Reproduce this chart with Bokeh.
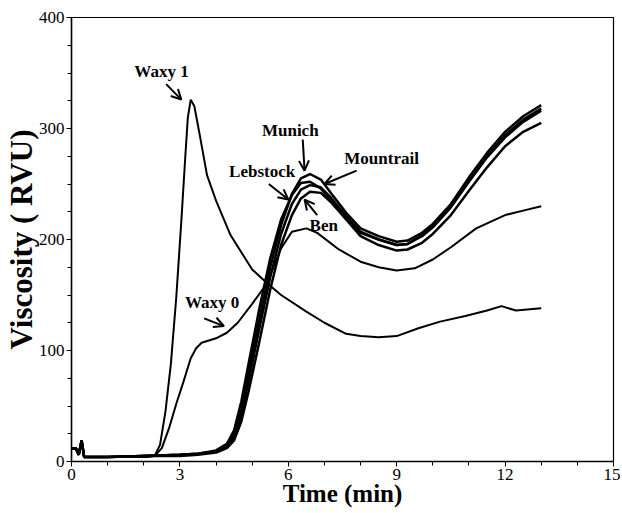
from bokeh.plotting import figure
from bokeh.models import Arrow, OpenHead, FixedTicker, Range1d
from bokeh.core.properties import value
from bokeh.embed import file_html
from bokeh.resources import INLINE

# ---- data (time in min, viscosity in RVU) ----
t_main = [0, 0.12, 0.2, 0.28, 0.35, 1.0, 2.0, 3.0, 3.5, 4.0, 4.3, 4.5, 4.7, 4.9, 5.2, 5.5,
          5.8, 6.1, 6.35, 6.6, 6.9, 7.2, 7.6, 8.0, 8.5, 9.0, 9.3, 9.7, 10.0, 10.5, 11.0,
          11.5, 12.0, 12.5, 13.0]
munich = [12, 12, 6, 19, 4, 4, 5, 6, 7, 9, 14, 24, 46, 80, 128, 175, 213, 241, 255, 259,
          254, 241, 224, 210, 203, 198, 199, 206, 214, 232, 256, 278, 297, 311, 321]
lebstock = [12, 12, 6, 19, 4, 4, 5, 6, 7, 10, 16, 28, 54, 88, 138, 183, 218, 240, 251, 252,
            246, 234, 219, 206, 200, 195, 196, 204, 212, 230, 253, 275, 294, 308, 318]
mountrail = [12, 12, 6, 19, 4, 4, 5, 6, 7, 9, 13, 22, 42, 72, 120, 166, 205, 232, 245, 249,
             247, 237, 221, 207, 200, 195, 196, 203, 211, 229, 252, 274, 292, 306, 316]
ben = [12, 12, 6, 19, 4, 4, 5, 5, 6, 8, 12, 19, 36, 63, 108, 155, 195, 222, 237, 243,
       242, 233, 218, 203, 195, 190, 191, 197, 205, 222, 244, 265, 284, 297, 305]

t_waxy1 = [0, 0.12, 0.2, 0.28, 0.35, 1, 2, 2.3, 2.45, 2.6, 2.75, 2.9, 3.05, 3.15, 3.22, 3.3,
           3.4, 3.55, 3.75, 4.0, 4.4, 5.0, 5.4, 5.8, 6.5, 7.0, 7.6, 8.0, 8.5, 9.0, 9.6, 10.2,
           10.9, 11.5, 11.9, 12.3, 13]
waxy1 = [12, 12, 6, 19, 4, 4, 4, 5, 15, 45, 88, 148, 222, 275, 310, 326, 320, 294, 258, 235,
         204, 173, 161, 150, 135, 125, 115, 113, 112, 113, 120, 126, 131, 136, 140, 136, 138]

t_waxy0 = [0, 0.12, 0.2, 0.28, 0.35, 1, 2, 2.3, 2.5, 2.7, 2.9, 3.1, 3.3, 3.45, 3.6, 3.8, 4.0,
           4.3, 4.6, 5.0, 5.4, 5.8, 6.1, 6.5, 6.8, 7.4, 8.0, 8.5, 9.0, 9.5, 10.0, 10.5, 11.2,
           12, 12.5, 13]
waxy0 = [12, 12, 6, 19, 4, 4, 4, 5, 12, 30, 52, 72, 93, 102, 107, 109, 111, 116, 125, 142,
         160, 192, 207, 210, 206, 191, 180, 175, 172, 174, 182, 193, 210, 222, 226, 230]

x_ticks = [0, 3, 6, 9, 12, 15]
y_ticks = [0, 100, 200, 300, 400]

# annotation texts and their anchor/arrow positions (data units)
label_text = ["Waxy 1", "Munich", "Mountrail", "Lebstock", "Ben", "Waxy 0"]
label_x = [1.74, 5.27, 7.55, 4.36, 6.59, 3.14]
label_y = [351, 298, 273, 261, 213, 143]
arrow_x0 = [2.62, 6.40, 7.89, 5.46, 6.80, 3.67]
arrow_y0 = [340, 290, 262, 250, 222, 129]
arrow_x1 = [3.04, 6.45, 7.00, 6.00, 6.45, 4.22]
arrow_y1 = [326, 262, 250, 236, 236, 122]

FONT = "Liberation Serif"

p = figure(width=620, height=511, output_backend="svg", toolbar_location=None,
           x_range=Range1d(0, 15), y_range=Range1d(0, 400),
           min_border_left=69, min_border_right=7, min_border_top=17, min_border_bottom=50)
p.grid.visible = False
p.outline_line_color = "black"
p.outline_line_width = 1.2
p.background_fill_color = "white"
p.border_fill_color = "white"

for tt, vv, lw in [(t_main, munich, 2.5), (t_main, lebstock, 2.5), (t_main, mountrail, 2.5),
                   (t_main, ben, 2.5), (t_waxy1, waxy1, 2.0), (t_waxy0, waxy0, 2.0)]:
    p.line(tt, vv, line_color="black", line_width=lw)

p.text(x=label_x, y=label_y, text=label_text, text_font=value(FONT),
       text_font_style="bold", text_font_size="17px", text_baseline="middle",
       text_align="left", text_color="black")

for x0, y0, x1, y1 in zip(arrow_x0, arrow_y0, arrow_x1, arrow_y1):
    p.add_layout(Arrow(end=OpenHead(size=10, line_width=2, line_color="black"),
                       x_start=x0, y_start=y0, x_end=x1, y_end=y1,
                       line_width=2, line_color="black"))

xa = p.xaxis[0]
xa.ticker = FixedTicker(ticks=x_ticks, minor_ticks=list(range(0, 16)))
xa.axis_label = "Time (min)"
ya = p.yaxis[0]
ya.ticker = FixedTicker(ticks=y_ticks, minor_ticks=list(range(0, 401, 25)))
ya.axis_label = "Viscosity ( RVU)"
for ax in (xa, ya):
    ax.axis_line_color = "black"
    ax.axis_line_width = 1.5
    ax.major_tick_line_color = "black"
    ax.minor_tick_line_color = "black"
    ax.major_tick_out = 5
    ax.major_tick_in = 0
    ax.minor_tick_out = 4
    ax.minor_tick_in = 0
    ax.major_label_text_font = FONT
    ax.major_label_text_font_size = "17px"
    ax.major_label_text_color = "black"
    ax.major_label_standoff = 2
    ax.axis_label_text_font = FONT
    ax.axis_label_text_font_style = "bold"
    ax.axis_label_text_color = "black"
xa.axis_label_text_font_size = "25px"
xa.axis_label_standoff = -3
ya.axis_label_text_font_size = "31px"
ya.axis_label_standoff = -3

open("out.html", "w").write(file_html(p, INLINE))
